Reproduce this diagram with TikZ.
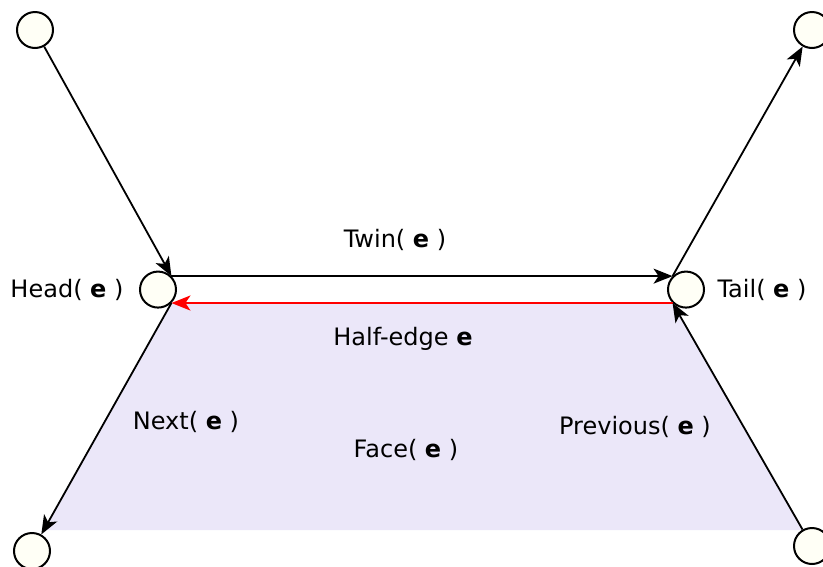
\documentclass[tikz,border=0pt]{standalone}
\usepackage{fontspec}
\setmainfont{DejaVu Sans}
\usetikzlibrary{arrows.meta,backgrounds}
\definecolor{facefill}{RGB}{235,231,249}
\definecolor{vertfill}{RGB}{255,255,246}
\definecolor{halfred}{RGB}{255,0,0}
\begin{document}
\begin{tikzpicture}[x=1pt,y=-1pt,
  vertex/.style={circle,draw,line width=2pt,fill=vertfill,minimum size=36pt,inner sep=0pt},
  edge/.style={line width=1.8pt,-{Stealth[length=19pt,width=15pt,inset=5pt]}},
  flat/.style={line width=2pt},
  lbl/.style={font=\fontsize{24}{28}\selectfont,anchor=base,inner sep=0pt}]
\useasboundingbox (0,0) rectangle (823,566);

% vertices
\node[vertex] (tl)   at (35,30)     {};
\node[vertex] (tr)   at (812,30)    {};
\node[vertex] (head) at (158,289.57) {};
\node[vertex] (tail) at (686,289.57) {};
\node[vertex] (bl)   at (32,551)    {};
\node[vertex] (br)   at (812,546)   {};

% the face bounded by the half-edge
\begin{scope}[on background layer]
  \fill[facefill] (head.-45) -- (tail.-135) -- (803,530) -- (44,530) -- cycle;
\end{scope}

% half-edges
\draw[edge] (tl) -- (head.45);
\draw[edge,flat] (head.45) -- (tail.135);
\draw[edge,flat,draw=halfred,fill=halfred] (tail.-135) -- (head.-45);
\draw[edge] (tail.135) -- (tr);
\draw[edge] (br) -- (tail.-135);
\draw[edge] (head.-45) -- (bl);

% labels
\node[lbl] (twinlbl) at (395,247) {Twin( \textbf{e} )};
\node[lbl] (headlbl) at (67,297)  {Head( \textbf{e} )};
\node[lbl] (taillbl) at (762,297) {Tail( \textbf{e} )};
\node[lbl] (helbl)   at (403,345) {Half-edge \textbf{e}};
\node[lbl] (nextlbl) at (186,429) {Next( \textbf{e} )};
\node[lbl] (facelbl) at (406,457) {Face( \textbf{e} )};
\node[lbl] (prevlbl) at (635,434) {Previous( \textbf{e} )};
\end{tikzpicture}
\end{document}
